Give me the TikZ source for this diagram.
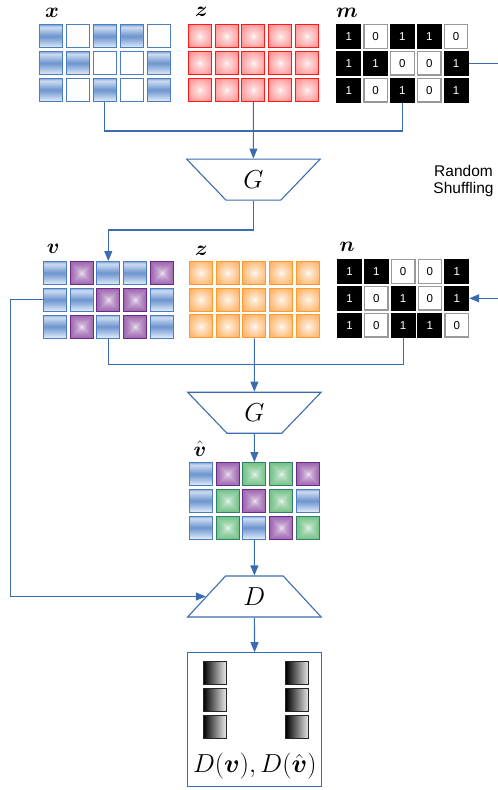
\documentclass[tikz,border=0pt]{standalone}
\usepackage{fix-cm}
\usepackage{amsmath}
\usepackage{fontspec}
\newfontfamily\labelsans{Liberation Sans}
\usetikzlibrary{arrows.meta,shapes.geometric}

\definecolor{wireblue}{HTML}{3C6CB0}
\definecolor{bluebd}{HTML}{4A7EC0}
\definecolor{blueA}{HTML}{86A8D8}
\definecolor{blueB}{HTML}{CFDDF1}
\definecolor{blueC}{HTML}{6C94CE}
\definecolor{blueD}{HTML}{A8C2E6}
\definecolor{blueE}{HTML}{E6EEF9}
\definecolor{purplebd}{HTML}{6B2A8A}
\definecolor{greenbd}{HTML}{2F7F6A}
\definecolor{redbd}{HTML}{FF1A1A}
\definecolor{redA}{HTML}{FFD8D8}
\definecolor{redB}{HTML}{FF9C9C}
\definecolor{redC}{HTML}{FF6E6E}
\definecolor{orangebd}{HTML}{FF9A2E}
\definecolor{orangeA}{HTML}{FFE6CC}
\definecolor{orangeB}{HTML}{FFB870}
\definecolor{orangeC}{HTML}{FF982A}

% banded blue fill of the data cells (path covers 25bp..75bp)
\pgfdeclareverticalshading{bluebar}{100bp}{color(0bp)=(blueE); color(25bp)=(blueE); color(37bp)=(blueD); color(50bp)=(blueC); color(70bp)=(blueB); color(75bp)=(blueA); color(100bp)=(blueA)}
% soft round glow for the noise cells
\pgfdeclareradialshading{redglow}{\pgfpoint{0bp}{0bp}}{color(0bp)=(white); color(6bp)=(redA); color(28bp)=(redB); color(50bp)=(redC); color(72bp)=(redC)}
\pgfdeclareradialshading{orangeglow}{\pgfpoint{0bp}{0bp}}{color(0bp)=(white); color(6bp)=(orangeA); color(28bp)=(orangeB); color(50bp)=(orangeC); color(72bp)=(orangeC)}
% square (ring) gradients: t = max(|x|,|y|)/50, white in the middle
\pgfdeclarefunctionalshading{purplesq}{\pgfpoint{-50bp}{-50bp}}{\pgfpoint{50bp}{50bp}}{}{abs exch abs 2 copy lt {exch} if pop 50 div sqrt dup 0.54 mul 1 exch sub exch dup 0.85 mul 1 exch sub exch 0.44 mul 1 exch sub}
\pgfdeclarefunctionalshading{greensq}{\pgfpoint{-50bp}{-50bp}}{\pgfpoint{50bp}{50bp}}{}{abs exch abs 2 copy lt {exch} if pop 50 div sqrt dup 0.77 mul 1 exch sub exch dup 0.34 mul 1 exch sub exch 0.66 mul 1 exch sub}

\tikzset{
  wire/.style={draw=wireblue, line width=1.1pt},
  feed/.style={wire, -{Triangle[length=10pt,width=8pt]}},
  cellbase/.style={minimum size=23pt, inner sep=0pt, line width=1pt},
  bc/.style={cellbase, draw=bluebd, shade, shading=bluebar},
  wc/.style={cellbase, draw=bluebd, fill=white},
  pc/.style={cellbase, draw=purplebd, shade, shading=purplesq},
  gc/.style={cellbase, draw=greenbd, shade, shading=greensq},
  rc/.style={cellbase, draw=redbd, shade, shading=redglow},
  oc/.style={cellbase, draw=orangebd, shade, shading=orangeglow},
  bitfont/.style={font=\labelsans\fontsize{11.5}{12}\selectfont},
  bitone/.style={cellbase, minimum size=24pt, draw=black, fill=black, text=white, bitfont},
  bitzero/.style={cellbase, minimum size=23.5pt, draw=gray!80, line width=1.3pt, fill=white, text=black, bitfont},
  bitcell/.code={\ifnum#1=1 \tikzset{bitone}\else\tikzset{bitzero}\fi},
  tag/.style={anchor=base west, inner sep=0pt, font=\fontsize{21}{21}\selectfont},
  net/.style={trapezium, draw=wireblue, line width=1.1pt, trapezium stretches=true,
    minimum width=134pt, minimum height=41pt, trapezium angle=51, inner sep=0pt,
    font=\fontsize{26}{26}\selectfont},
  gbar/.style={minimum size=23pt, inner sep=0pt, draw=black!85, line width=0.8pt,
    left color=black, right color=white!92!black},
}

% 3x5 grid of coloured cells: name, x of first centre, y of first centre, rows
\newcommand\colourgrid[4]{%
  \foreach \cells [count=\r] in {#4}{%
    \foreach \k [count=\c] in \cells{%
      \node[\k] (#1-\r-\c) at ({#2+26.8*(\c-1)},{#3+26.8*(\r-1)}) {};}}}
% 3x5 grid of mask bits
\newcommand\bitgrid[4]{%
  \foreach \cells [count=\r] in {#4}{%
    \foreach \k [count=\c] in \cells{%
      \node[bitcell=\k] (#1-\r-\c) at ({#2+26.8*(\c-1)},{#3+26.8*(\r-1)}) {\k};}}}

\begin{document}
\begin{tikzpicture}[x=1pt, y=-1pt]
\useasboundingbox (0,0) rectangle (498,790);

% ---- first stage: x, z, m -> G
\node[tag] (xl) at (45,17.3) {$\boldsymbol{x}$};
\node[tag] (zl) at (195,16.7) {$\boldsymbol{z}$};
\node[tag] (ml) at (336,17.3) {$\boldsymbol{m}$};
\colourgrid{x}{51.3}{36.3}{{bc,wc,bc,bc,wc},{bc,bc,wc,wc,bc},{bc,wc,bc,wc,bc}}
\colourgrid{z}{199.8}{36.3}{{rc,rc,rc,rc,rc},{rc,rc,rc,rc,rc},{rc,rc,rc,rc,rc}}
\bitgrid{m}{348.8}{36.5}{{1,0,1,1,0},{1,1,0,0,1},{1,0,1,0,1}}

\node[net, shape border rotate=180] (g1) at (253.4,179.6) {$G$};

\node[font=\labelsans\fontsize{15.5}{17}\selectfont, align=center, inner sep=0pt] (shuf) at (463.5,180.5) {Random\\Shuffling};

% ---- second stage: v, z, n -> G
\node[tag] (vl) at (46.7,253.3) {$\boldsymbol{v}$};
\node[tag] (z2l) at (195,255) {$\boldsymbol{z}$};
\node[tag] (nl) at (339.3,251.7) {$\boldsymbol{n}$};
\colourgrid{v}{54.7}{273}{{bc,pc,bc,bc,pc},{bc,bc,pc,pc,bc},{bc,pc,bc,pc,bc}}
\colourgrid{z2}{200.8}{272.8}{{oc,oc,oc,oc,oc},{oc,oc,oc,oc,oc},{oc,oc,oc,oc,oc}}
\bitgrid{n}{349.5}{271.5}{{1,1,0,0,1},{1,0,1,0,1},{1,0,1,1,0}}

\node[net, shape border rotate=180] (g2) at (254.4,412.7) {$G$};

\node[tag] (vhl) at (193.3,456) {$\hat{\boldsymbol{v}}$};
\colourgrid{vh}{200.8}{474}{{bc,pc,gc,gc,pc},{bc,gc,pc,gc,bc},{bc,gc,bc,pc,gc}}

% ---- discriminator and its output
\node[net] (d) at (254.4,596.5) {$D$};
\node[draw=wireblue, line width=1.1pt, minimum width=133.4pt, minimum height=133.3pt, inner sep=0pt] (outbox) at (254.6,719.4) {};
\foreach \r in {1,2,3}{%
  \node[gbar] (dl-\r) at (214.7,{673+26.8*(\r-1)}) {};
  \node[gbar] (dr-\r) at (297.2,{673+26.8*(\r-1)}) {};}
\node[font=\fontsize{26}{26}\selectfont, inner sep=0pt] (dout) at (254.8,766) {$D(\boldsymbol{v}), D(\hat{\boldsymbol{v}})$};

% ---- connectors
\coordinate (join1) at (253.4,131);
\coordinate (bend1) at (0,230);
\coordinate (edge) at (500,0);
\coordinate (join2) at (254.4,364.3);
\coordinate (lft) at (10.7,0);

\draw[wire] (x-3-3.south) |- (join1) -| (m-3-3.south);
\draw[feed] (z-3-3.south) -- (g1.north);
\draw[feed] (g1.south) -- (g1.south |- bend1) -| (v-1-3.north);
\draw[wire] (m-2-5.east) -- (m-2-5.east -| edge);
\draw[feed] (n-2-5.east -| edge) -- (n-2-5.east);
\draw[wire] (v-3-3.south) |- (join2) -| (n-3-3.south);
\draw[feed] (z2-3-3.south) -- (g2.north);
\draw[feed] (v-2-1.west) -- (v-2-1.west -| lft) |- (d.west);
\draw[feed] (g2.south) -- (vh-1-3.north);
\draw[feed] (vh-3-3.south) -- (d.north);
\draw[feed] (d.south) -- (outbox.north);
\end{tikzpicture}
\end{document}
